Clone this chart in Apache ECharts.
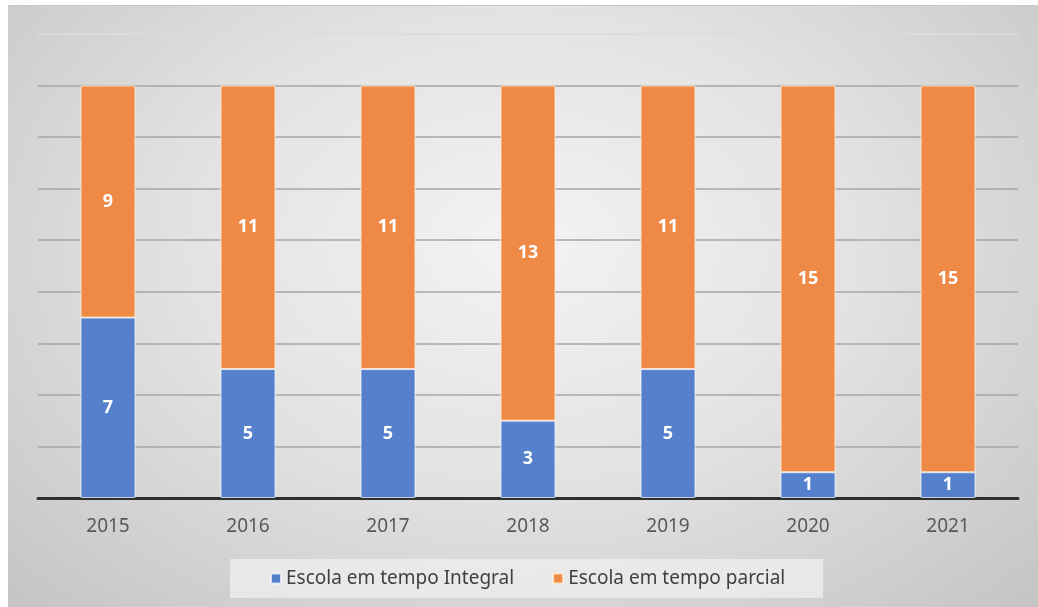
<!DOCTYPE html>
<html>
<head>
<meta charset="utf-8">
<script src="https://cdn.jsdelivr.net/npm/echarts@6/dist/echarts.min.js"></script>
<style>
  html, body { margin: 0; padding: 0; background: #fff; }
  #chart {
    position: absolute; left: 8px; top: 5px; width: 1030px; height: 602px;
    background: radial-gradient(ellipse at 50% 40%, #f3f3f3 0%, #e3e3e3 45%, #c4c4c4 100%);
    border-top: 1px solid #c8c8c8;
  }
</style>
</head>
<body>
<div id="chart"></div>
<script>
var years = ['2015', '2016', '2017', '2018', '2019', '2020', '2021'];
var integral = [7, 5, 5, 3, 5, 1, 1];
var parcial = [9, 11, 11, 13, 11, 15, 15];
var seriesNames = ['Escola em tempo Integral', 'Escola em tempo parcial'];

var chart = echarts.init(document.getElementById('chart'), null, { renderer: 'canvas' });

// linhas de grade: a última (18) mais clara, como no original
var gridColors = [];
for (var i = 0; i < 9; i++) gridColors.push('#a6a6a6');
gridColors.push('#dcdcdc');

var labelStyle = {
  show: true,
  position: 'inside',
  color: '#ffffff',
  fontWeight: 'bold',
  fontSize: 18,
  fontFamily: 'Noto Sans'
};

var option = {
  backgroundColor: 'transparent',
  animation: false,
  textStyle: { fontFamily: 'Noto Sans' },
  grid: { left: 30, right: 20, top: 28, bottom: 110 },
  legend: {
    bottom: 10,
    left: 222,
    itemWidth: 10,
    itemHeight: 10,
    itemGap: 38,
    padding: [10, 38, 10, 40],
    backgroundColor: 'rgba(236,236,236,0.85)',
    icon: 'rect',
    textStyle: { color: '#404040', fontSize: 19, fontFamily: 'Noto Sans' },
    data: seriesNames
  },
  xAxis: {
    type: 'category',
    data: years,
    axisTick: { show: false },
    axisLine: { lineStyle: { color: '#2f2f2f', width: 3 } },
    axisLabel: { color: '#595959', fontSize: 19, margin: 19, fontFamily: 'Noto Sans' }
  },
  yAxis: {
    type: 'value',
    min: 0,
    max: 18,
    interval: 2,
    axisLabel: { show: false },
    axisLine: { show: false },
    axisTick: { show: false },
    splitLine: { lineStyle: { color: gridColors, width: 1.5 } }
  },
  series: [
    {
      name: seriesNames[0],
      type: 'bar',
      stack: 'total',
      barWidth: 55,
      data: integral,
      itemStyle: { color: '#5580cb', borderColor: 'rgba(255,255,255,0.7)', borderWidth: 1 },
      label: labelStyle
    },
    {
      name: seriesNames[1],
      type: 'bar',
      stack: 'total',
      barWidth: 55,
      data: parcial,
      itemStyle: { color: '#ee8a46', borderColor: 'rgba(255,240,220,0.8)', borderWidth: 1 },
      label: labelStyle
    }
  ]
};

chart.setOption(option);
</script>
</body>
</html>
